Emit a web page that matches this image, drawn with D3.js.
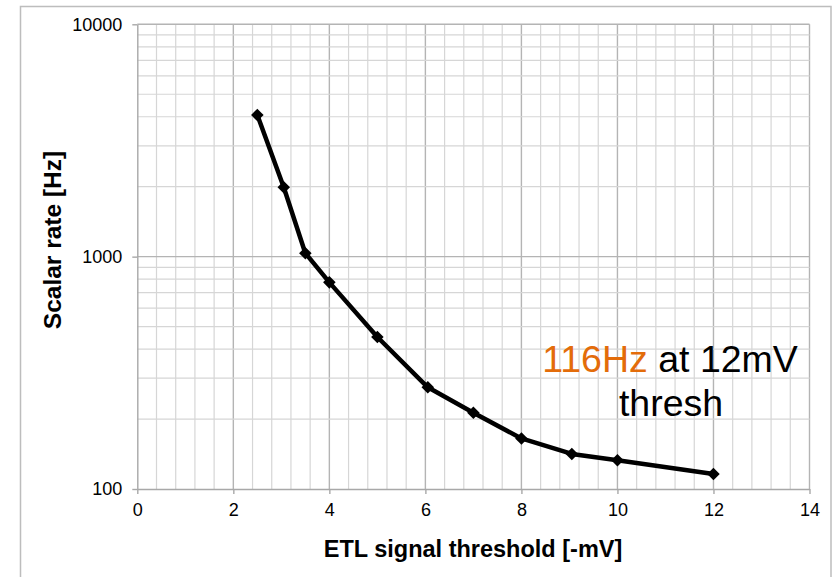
<!DOCTYPE html>
<html>
<head>
<meta charset="utf-8">
<script src="https://cdn.jsdelivr.net/npm/d3@7"></script>
<style>
  html, body { margin: 0; padding: 0; background: #fff; }
  svg { display: block; font-family: "Liberation Sans", Arial, Helvetica, sans-serif; }
</style>
</head>
<body>
<svg id="chart" width="836" height="577"></svg>
<script>
// ---- data ----
const thresholds = [2.5, 3.05, 3.5, 4, 5, 6.05, 7, 8, 9.05, 10, 12];
const rates      = [4070, 1990, 1035, 775, 451, 274, 213, 165, 141.5, 133, 116];
const xTicks = [0, 2, 4, 6, 8, 10, 12, 14];
const yTicks = [100, 1000, 10000];
const xTitle = "ETL signal threshold [-mV]";
const yTitle = "Scalar rate [Hz]";
const noteHighlight = "116Hz";
const noteRest = " at 12mV";
const noteLine2 = "thresh";

// ---- layout ----
const W = 836, H = 577;
const m = { left: 137.3, right: 836 - 809.5, top: 24.3, bottom: 577 - 489 };
const svg = d3.select("#chart");

svg.append("rect").attr("x", 20.5).attr("y", 6.5).attr("width", 810.5).attr("height", 620)
  .attr("fill", "#fff").attr("stroke", "#bdbdbd").attr("stroke-width", 1.5);

const x = d3.scaleLinear().domain([0, 14]).range([m.left, W - m.right]);
const y = d3.scaleLog().domain([100, 10000]).range([H - m.bottom, m.top]);

const g = svg.append("g");

// minor vertical grid (every 0.4)
const xMinor = d3.range(0, 14.0001, 0.4).filter(v => Math.abs(v / 2 - Math.round(v / 2)) > 1e-6);
g.selectAll(".vminor").data(xMinor).enter().append("line")
  .attr("x1", d => x(d)).attr("x2", d => x(d))
  .attr("y1", y(10000)).attr("y2", y(100))
  .attr("stroke", "#d6d6d6").attr("stroke-width", 1.2);
// major vertical grid
g.selectAll(".vmajor").data(xTicks.slice(1)).enter().append("line")
  .attr("x1", d => x(d)).attr("x2", d => x(d))
  .attr("y1", y(10000)).attr("y2", y(100))
  .attr("stroke", "#b4b4b4").attr("stroke-width", 1.4);

// minor horizontal grid (2..9 per decade)
const yMinor = [];
[100, 1000].forEach(d => { for (let k = 2; k <= 9; k++) yMinor.push(d * k); });
g.selectAll(".hminor").data(yMinor).enter().append("line")
  .attr("x1", x(0)).attr("x2", x(14))
  .attr("y1", d => y(d)).attr("y2", d => y(d))
  .attr("stroke", "#d6d6d6").attr("stroke-width", 1.2);
g.selectAll(".hmajor").data([1000, 10000]).enter().append("line")
  .attr("x1", x(0)).attr("x2", x(14))
  .attr("y1", d => y(d)).attr("y2", d => y(d))
  .attr("stroke", "#b4b4b4").attr("stroke-width", 1.4);

// axes
const xAxis = d3.axisBottom(x).tickValues(xTicks).tickSize(5).tickSizeOuter(0).tickPadding(8)
  .tickFormat(d3.format("d"));
const gx = svg.append("g").attr("transform", `translate(0,${y(100)})`).call(xAxis);
gx.select(".domain").attr("stroke", "#a8a8a8").attr("stroke-width", 1.4);
gx.selectAll(".tick line").attr("stroke", "#a8a8a8").attr("stroke-width", 1.4);
gx.selectAll("text").attr("font-size", 18).attr("fill", "#000").attr("dy", "0.75em");

const yAxis = d3.axisLeft(y).tickValues(yTicks).tickSize(5).tickSizeOuter(0).tickPadding(10)
  .tickFormat(d3.format("d"));
const gy = svg.append("g").attr("transform", `translate(${x(0)},0)`).call(yAxis);
gy.select(".domain").attr("stroke", "#a8a8a8").attr("stroke-width", 1.4);
gy.selectAll(".tick line").attr("stroke", "#a8a8a8").attr("stroke-width", 1.4);
gy.selectAll("text").attr("font-size", 18).attr("fill", "#000");

// axis titles
svg.append("text").attr("x", 473).attr("y", 557).attr("text-anchor", "middle")
  .attr("font-size", 23.5).attr("font-weight", "bold").text(xTitle);
svg.append("text").attr("transform", "translate(61,240) rotate(-90)").attr("text-anchor", "middle")
  .attr("font-size", 24.5).attr("font-weight", "bold").text(yTitle);

// line + markers
const pts = thresholds.map((t, i) => [t, rates[i]]);
svg.append("path").datum(pts)
  .attr("d", d3.line().x(d => x(d[0])).y(d => y(d[1])))
  .attr("fill", "none").attr("stroke", "#000").attr("stroke-width", 4.5)
  .attr("stroke-linejoin", "round");
svg.selectAll(".mk").data(pts).enter().append("path")
  .attr("transform", d => `translate(${x(d[0])},${y(d[1])})`)
  .attr("d", d3.symbol(d3.symbolDiamond2, 100)())
  .attr("fill", "#000");

// annotation
const note = svg.append("text").attr("x", 670).attr("y", 372).attr("text-anchor", "middle")
  .attr("font-size", 37.5);
note.append("tspan").attr("fill", "#e36c0a").text(noteHighlight);
note.append("tspan").attr("fill", "#000").text(noteRest);
svg.append("text").attr("x", 671).attr("y", 416).attr("text-anchor", "middle")
  .attr("font-size", 37.5).attr("fill", "#000").text(noteLine2);
</script>
</body>
</html>
